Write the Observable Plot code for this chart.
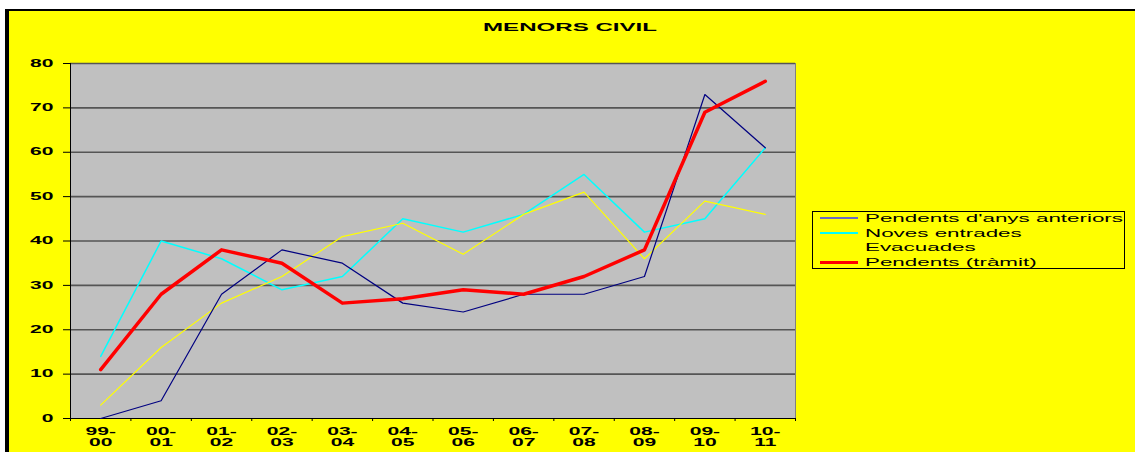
<!DOCTYPE html>
<html>
<head>
<meta charset="utf-8">
<script src="https://cdn.jsdelivr.net/npm/d3@7"></script>
<script src="https://cdn.jsdelivr.net/npm/@observablehq/plot@0.6"></script>
<style>
  body { margin: 0; background: #ffffff; }
  #wrap { position: relative; width: 1135px; height: 452px; overflow: hidden; font-family: "Liberation Sans", Arial, sans-serif; }
  #bg { position: absolute; left: 9px; top: 11px; right: 0; bottom: 0; background: #ffff00; }
  #bl { position: absolute; left: 5px; top: 9px; width: 4px; bottom: 0; background: #000; }
  #bt { position: absolute; left: 5px; top: 9px; right: 0; height: 2px; background: #000; }
  #chart { position: absolute; left: 0; top: 0; }
  #title { position: absolute; left: 483px; top: 22px; font-weight: bold; font-size: 11px; line-height: 11px; white-space: nowrap; transform-origin: left top; }
  #legendBox { position: absolute; left: 812px; top: 211px; width: 313px; height: 58px; border: 1px solid #000; box-sizing: border-box; }
  .lrow { position: absolute; left: 820px; height: 14px; }
  .sw { position: absolute; left: 0; width: 38px; }
  .lt { position: absolute; left: 45px; top: 0; font-size: 11px; line-height: 14px; white-space: nowrap; transform-origin: left center; color: #000; }
</style>
</head>
<body>
<div id="wrap">
  <div id="bg"></div>
  <div id="bl"></div>
  <div id="bt"></div>
  <div id="chart"></div>
  <div id="title"></div>
  <div id="legendBox"></div>
</div>
<script>
// ---- data ----
const title = "MENORS CIVIL";
const categories = ["99-00","00-01","01-02","02-03","03-04","04-05","05-06","06-07","07-08","08-09","09-10","10-11"];
const yTicks = [0,10,20,30,40,50,60,70,80];
const seriesNames = ["Pendents d'anys anteriors","Noves entrades","Evacuades","Pendents (tràmit)"];
const pendentsAnteriors = [0,4,28,38,35,26,24,28,28,32,73,61];
const novesEntrades = [14,40,36,29,32,45,42,46,55,42,45,61];
const evacuades = [3,16,26,32,41,44,37,46,51,36,49,46];
const pendentsTramit = [11,28,38,35,26,27,29,28,32,38,69,76];

const seriesValues = [pendentsAnteriors, novesEntrades, evacuades, pendentsTramit];
const seriesColors = ["#000080", "#00ffff", "#ffff00", "#ff0000"];
const seriesWidths = [1.2, 1.5, 1.2, 3.5];
const legendSwatch = ["#6a6ac0", "#00ffff", "#ffff00", "#ff0000"];
const legendSwatchH = [1.5, 1.5, 1.5, 3];

const idx = categories.map((_, i) => i);
const boundaries = d3.range(-0.5, categories.length, 1);
const topLabel = categories.map(c => c.split("-")[0] + "-");
const botLabel = categories.map(c => c.split("-")[1]);

function rows(k) { return seriesValues[k].map((v, i) => ({i, v, s: seriesNames[k]})); }

const drawOrder = [1, 2, 0, 3];

const chart = Plot.plot({
  width: 1135,
  height: 452,
  marginLeft: 70,
  marginRight: 340,
  marginTop: 63,
  marginBottom: 34,
  style: { background: "transparent", fontFamily: "Liberation Sans, Arial, sans-serif", fontSize: "10px", fontWeight: "bold", color: "#000", overflow: "visible" },
  x: { domain: [-0.5, categories.length - 0.5] },
  y: { domain: [0, 80] },
  marks: [
    Plot.frame({ fill: "#c0c0c0", stroke: "#808080" }),
    Plot.ruleY(yTicks.filter(d => d > 0), { stroke: "#555555", strokeWidth: 1.6 }),
    Plot.ruleX([-0.5], { stroke: "#000" }),
    Plot.ruleY([0], { stroke: "#000" }),
    Plot.axisY({ ticks: yTicks, tickSize: 7, tickPadding: 10, tickFormat: d => String(d), label: null, stroke: "#000" }),
    Plot.axisX({ ticks: boundaries, tickSize: 3, tickFormat: () => "", label: null, stroke: "#000" }),
    Plot.axisX({ ticks: idx, tickSize: 0, tickPadding: 9, tickFormat: i => topLabel[i], label: null }),
    Plot.axisX({ ticks: idx, tickSize: 0, tickPadding: 20, tickFormat: i => botLabel[i], label: null }),
    ...drawOrder.map(k => Plot.line(rows(k), { x: "i", y: "v", stroke: seriesColors[k], strokeWidth: seriesWidths[k], strokeLinejoin: "round" }))
  ]
});
document.getElementById("chart").appendChild(chart);

// stretch tick label glyphs horizontally (the reference uses wide, flat lettering)
chart.querySelectorAll('g[aria-label$="tick label"] text').forEach(t => {
  const len = t.getComputedTextLength();
  if (len > 0) {
    t.setAttribute("textLength", (len * 2.1).toFixed(1));
    t.setAttribute("lengthAdjust", "spacingAndGlyphs");
  }
});

// title
const tEl = document.getElementById("title");
tEl.textContent = title;
const tw = tEl.getBoundingClientRect().width;
tEl.style.transform = `scaleX(${174 / tw})`;

// legend
const wrap = document.getElementById("wrap");
const rowTops = [211, 226, 240, 255];
const spans = [];
seriesNames.forEach((name, k) => {
  const r = document.createElement("div");
  r.className = "lrow";
  r.style.top = rowTops[k] + "px";
  const sw = document.createElement("div");
  sw.className = "sw";
  sw.style.background = legendSwatch[k];
  sw.style.height = legendSwatchH[k] + "px";
  sw.style.top = (7 - legendSwatchH[k] / 2) + "px";
  const lt = document.createElement("div");
  lt.className = "lt";
  lt.textContent = name;
  r.appendChild(sw);
  r.appendChild(lt);
  wrap.appendChild(r);
  spans.push(lt);
});
const maxW = Math.max(...spans.map(s => s.getBoundingClientRect().width));
spans.forEach(s => s.style.transform = `scaleX(${258 / maxW})`);
</script>
</body>
</html>
